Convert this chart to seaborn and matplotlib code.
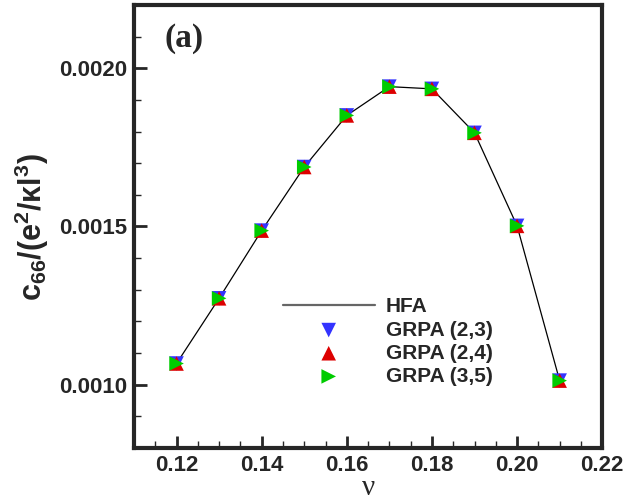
import numpy as np
import pandas as pd
import matplotlib
matplotlib.use('Agg')
import matplotlib.pyplot as plt
import seaborn as sns
from matplotlib.ticker import MultipleLocator, FormatStrFormatter

# data
nu = [0.12, 0.13, 0.14, 0.15, 0.16, 0.17, 0.18, 0.19, 0.20, 0.21]
c66_hfa = [0.001067, 0.001273, 0.001487, 0.001688, 0.001851, 0.001942, 0.001935, 0.001796, 0.001502, 0.001013]
c66_grpa23 = [0.001067, 0.001273, 0.001487, 0.001688, 0.001851, 0.001942, 0.001935, 0.001796, 0.001502, 0.001013]
c66_grpa24 = [0.001067, 0.001273, 0.001487, 0.001688, 0.001851, 0.001942, 0.001935, 0.001796, 0.001502, 0.001013]
c66_grpa35 = [0.001067, 0.001273, 0.001487, 0.001688, 0.001851, 0.001942, 0.001935, 0.001796, 0.001502, 0.001013]

sns.set_style('ticks')
plt.rcParams['font.family'] = ['Liberation Sans', 'DejaVu Sans']
plt.rcParams['mathtext.fontset'] = 'custom'
plt.rcParams['mathtext.bf'] = 'Liberation Sans:bold'
plt.rcParams['mathtext.rm'] = 'Liberation Sans:bold'
plt.rcParams['mathtext.it'] = 'Liberation Sans:bold'

fig = plt.figure(figsize=(6.26, 5.0), dpi=100)
ax = fig.add_axes([0.214, 0.104, 0.748, 0.886])

sns.lineplot(x=nu, y=c66_hfa, color='black', lw=0.9, label='HFA', ax=ax)
sns.scatterplot(x=nu, y=c66_grpa23, marker='v', s=110, color='#3333ff', edgecolor='none',
                label='GRPA (2,3)', ax=ax, zorder=3)
sns.scatterplot(x=nu, y=c66_grpa24, marker='^', s=110, color='#dd0000', edgecolor='none',
                label='GRPA (2,4)', ax=ax, zorder=4)
sns.scatterplot(x=nu, y=c66_grpa35, marker='>', s=110, color='#00cc00', edgecolor='none',
                label='GRPA (3,5)', ax=ax, zorder=5)

ax.set_xlim(0.11, 0.22)
ax.set_ylim(0.0008, 0.0022)
ax.xaxis.set_major_locator(MultipleLocator(0.02))
ax.xaxis.set_minor_locator(MultipleLocator(0.005))
ax.yaxis.set_major_locator(MultipleLocator(0.0005))
ax.yaxis.set_minor_locator(MultipleLocator(0.0001))
ax.xaxis.set_major_formatter(FormatStrFormatter('%.2f'))
ax.yaxis.set_major_formatter(FormatStrFormatter('%.4f'))

ax.tick_params(which='major', direction='in', length=9, width=2, labelsize=16, pad=5)
ax.tick_params(which='minor', direction='in', length=5, width=1)
for lab in ax.get_xticklabels() + ax.get_yticklabels():
    lab.set_fontweight('bold')
for sp in ax.spines.values():
    sp.set_linewidth(3)

ax.set_xlabel('ν', fontsize=21, family='Liberation Serif', labelpad=-1)
ax.set_ylabel(r'$\mathbf{c_{66}/(e^2/\kappa l^3)}$', fontsize=22, labelpad=6)

ax.text(0.065, 0.925, '(a)', transform=ax.transAxes, fontsize=24, fontweight='bold',
        family='Liberation Serif', va='center', ha='left')

leg = ax.legend(loc='upper left', bbox_to_anchor=(0.318, 0.34), borderaxespad=0,
                borderpad=0, frameon=False, handlelength=4.4, handletextpad=0.55,
                labelspacing=0.2, prop={'weight': 'bold', 'size': 15})
leg.get_lines()[0].set_color('#666666')
leg.get_lines()[0].set_linewidth(1.6)

fig.savefig('out.png', dpi=100)
